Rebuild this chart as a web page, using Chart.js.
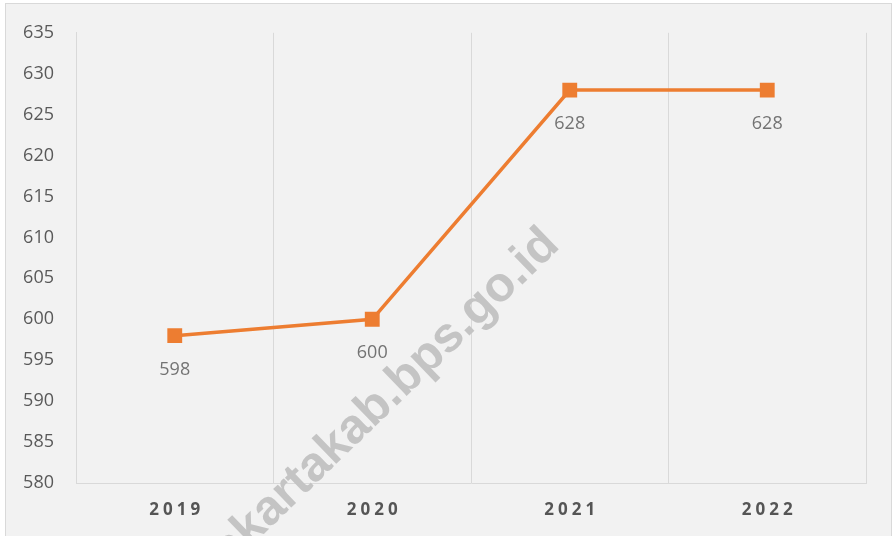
<!DOCTYPE html>
<html>
<head>
<meta charset="utf-8">
<script src="https://cdn.jsdelivr.net/npm/chart.js@4.4.1/dist/chart.umd.min.js"></script>
<style>
  html, body { margin: 0; padding: 0; background: #fff; overflow: hidden; }
  #frame { position: absolute; left: 5px; top: 3px; width: 885px; height: 540px; border: 1px solid #d9d9d9; background: #f2f2f2; }
  #chart { position: absolute; left: 0; top: 0; }
</style>
</head>
<body>
<div id="frame"></div>
<canvas id="chart" width="894" height="536"></canvas>
<script>
  // data
  var years = ['2019', '2020', '2021', '2022']
  var values = [598, 600, 628, 628]
  var yMin = 580
  var yMax = 635
  var yStep = 5
  var watermarkText = 'purwakartakab.bps.go.id'

  var orange = '#ed7d31'

  // watermark behind the line
  var watermark = {
    id: 'watermark',
    beforeDatasetsDraw: function (chart) {
      var ctx = chart.ctx
      ctx.save()
      ctx.translate(561, 247)
      ctx.rotate(-44 * Math.PI / 180)
      ctx.font = 'bold 49px "Liberation Sans", Arial, sans-serif'
      ctx.fillStyle = '#c4c4c4'
      ctx.textAlign = 'right'
      ctx.textBaseline = 'alphabetic'
      ctx.fillText(watermarkText, 0, 0)
      ctx.restore()
    }
  }

  // value labels under each point
  var valueLabels = {
    id: 'valueLabels',
    afterDatasetsDraw: function (chart) {
      var ctx = chart.ctx
      var meta = chart.getDatasetMeta(0)
      ctx.save()
      ctx.font = '18px "Open Sans", sans-serif'
      ctx.fillStyle = '#737373'
      ctx.textAlign = 'center'
      ctx.textBaseline = 'middle'
      meta.data.forEach(function (pt, i) {
        ctx.fillText(values[i], pt.x, pt.y + 34)
      })
      ctx.restore()
    }
  }

  // spaced-out bold year labels
  var yearLabels = {
    id: 'yearLabels',
    afterDraw: function (chart) {
      var ctx = chart.ctx
      var xs = chart.scales.x
      ctx.save()
      ctx.font = 'bold 17px "Open Sans", sans-serif'
      ctx.letterSpacing = '4px'
      ctx.fillStyle = '#555555'
      ctx.textAlign = 'center'
      ctx.textBaseline = 'middle'
      years.forEach(function (y, i) {
        ctx.fillText(y, xs.getPixelForTick(i) + 2, 510)
      })
      ctx.restore()
    }
  }

  var ctx = document.getElementById('chart').getContext('2d')
  new Chart(ctx, {
    type: 'line',
    data: {
      labels: years,
      datasets: [{
        data: values,
        borderColor: orange,
        backgroundColor: orange,
        borderWidth: 3.5,
        pointStyle: 'rect',
        pointRadius: 10.5,
        pointBorderWidth: 0,
        pointBackgroundColor: orange,
        tension: 0
      }]
    },
    options: {
      responsive: false,
      animation: false,
      layout: { padding: { top: 30, right: 28, left: 0, bottom: 0 } },
      plugins: {
        legend: { display: false },
        tooltip: { enabled: false }
      },
      scales: {
        x: {
          offset: true,
          grid: { offset: true, color: '#d9d9d9', drawTicks: false },
          border: { color: '#d9d9d9' },
          ticks: { display: false },
          afterFit: function (s) { s.height = 53 }
        },
        y: {
          min: yMin,
          max: yMax,
          grid: { display: false, drawTicks: false },
          border: { color: '#d9d9d9' },
          ticks: {
            stepSize: yStep,
            padding: 22,
            color: '#595959',
            font: { family: '"Open Sans", sans-serif', size: 18 }
          },
          afterFit: function (s) { s.width = 76 }
        }
      }
    },
    plugins: [watermark, valueLabels, yearLabels]
  })
</script>
</body>
</html>
